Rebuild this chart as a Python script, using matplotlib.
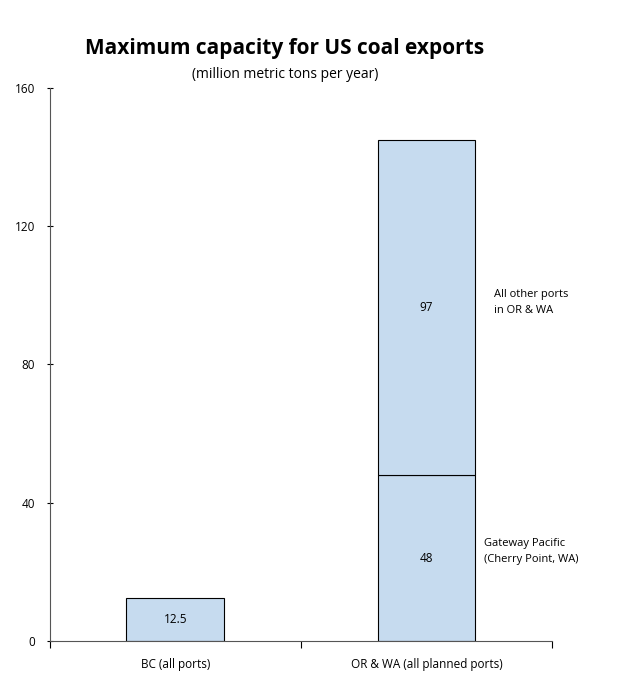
import matplotlib.pyplot as plt

categories = ["BC (all ports)", "OR & WA (all planned ports)"]
bottom_vals = [12.5, 48]
top_vals = [0, 97]
top_labels = ["", "97"]
side_notes = ["Gateway Pacific\n(Cherry Point, WA)", "All other ports\nin OR & WA"]

plt.rcParams['font.family'] = ['Open Sans', 'DejaVu Sans']

fig = plt.figure(figsize=(6.4, 6.86), dpi=100)
ax = fig.add_axes([0.078, 0.0656, 0.7845, 0.8064])

fill = "#c6dbef"
x = [0, 1]
ax.bar(x, bottom_vals, width=0.39, color=fill, edgecolor="black", linewidth=0.8)
ax.bar(x[1], top_vals[1], bottom=bottom_vals[1], width=0.39, color=fill,
       edgecolor="black", linewidth=0.8)

for i, v in enumerate(bottom_vals):
    ax.text(x[i], v / 2, f"{v:g}", ha="center", va="center", fontsize=8.5)
ax.text(x[1], bottom_vals[1] + top_vals[1] / 2, top_labels[1],
        ha="center", va="center", fontsize=8.5)

ax.text(1.23, bottom_vals[1] / 2 + 2, side_notes[0], ha="left", va="center",
        fontsize=8, linespacing=1.6)
ax.text(1.27, bottom_vals[1] + top_vals[1] / 2 + 1.5, side_notes[1], ha="left",
        va="center", fontsize=8, linespacing=1.6)

ax.set_xlim(-0.5, 1.5)
ax.set_ylim(0, 160)
ax.set_yticks([0, 40, 80, 120, 160])
ax.set_xticks([-0.5, 0.5, 1.5])
ax.set_xticklabels([])
ax.set_xticks(x, minor=True)
ax.set_xticklabels(categories, minor=True, fontsize=8.5)
ax.tick_params(axis="x", which="minor", length=0, pad=12)
ax.tick_params(axis="x", which="major", length=5, direction="out")
ax.tick_params(axis="y", length=5, direction="inout", labelsize=8.5, pad=8)
for s in ["top", "right"]:
    ax.spines[s].set_visible(False)
ax.spines["left"].set_color("#555555")
ax.spines["bottom"].set_color("#555555")

fig.text(0.445, 0.93, "Maximum capacity for US coal exports", ha="center",
         va="center", fontsize=15, fontweight="bold")
fig.text(0.445, 0.891, "(million metric tons per year)", ha="center",
         va="center", fontsize=10)

fig.savefig("out.png", dpi=100)
